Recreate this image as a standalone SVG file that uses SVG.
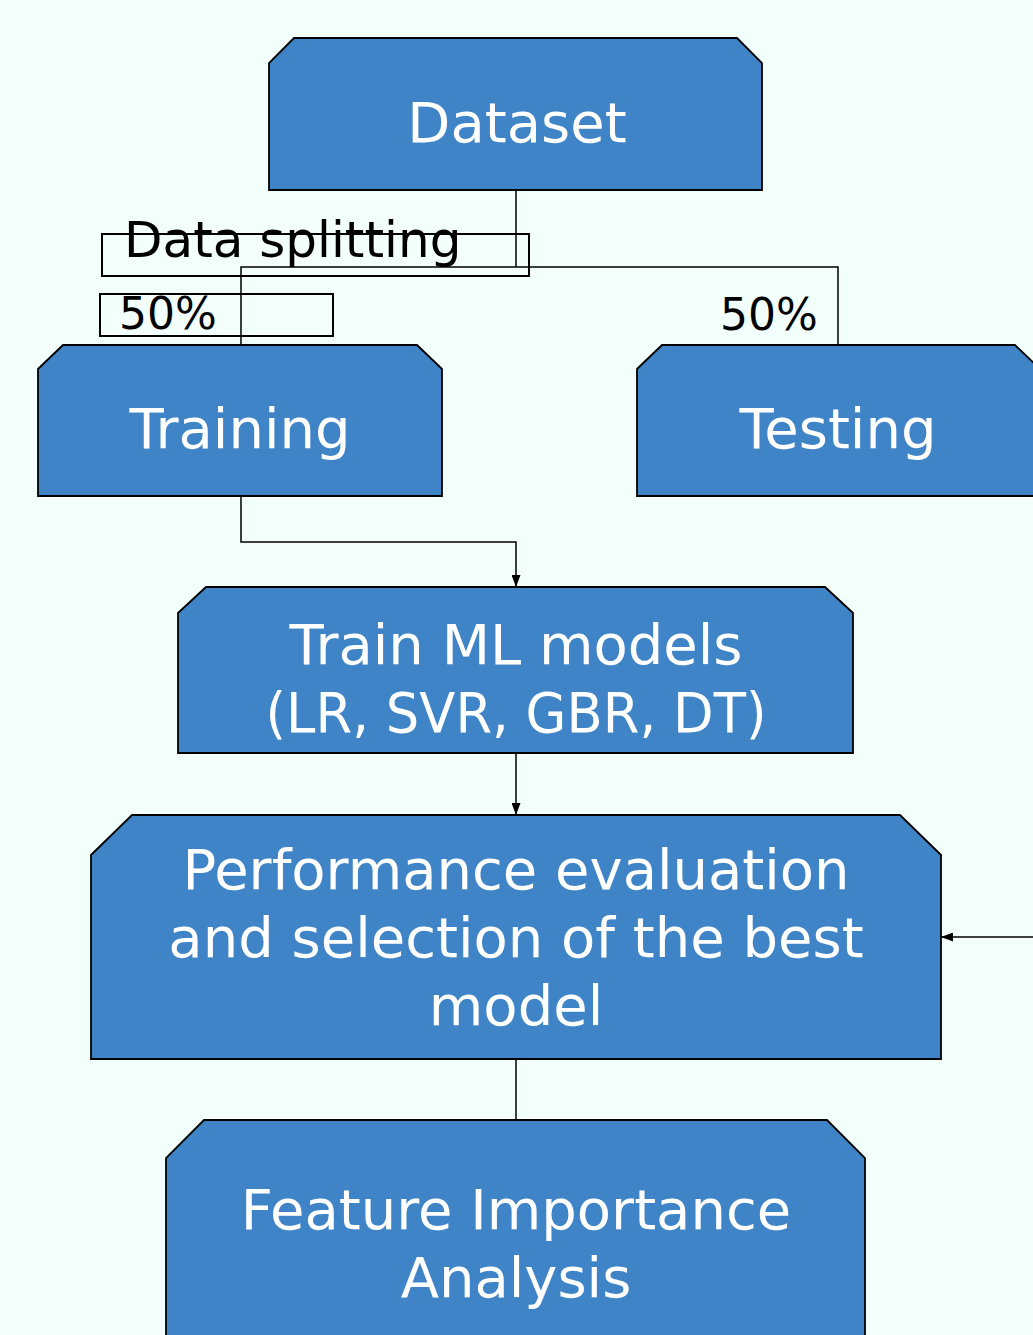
<svg xmlns="http://www.w3.org/2000/svg" width="1033" height="1335" viewBox="0 0 1033 1335">
<style>
.node{fill:#3f84c7;stroke:#000;stroke-width:1.8}
.nt{fill:#fff;font-family:"DejaVu Sans",sans-serif;font-size:56px;text-anchor:middle}
.lbl{fill:#000;font-family:"DejaVu Sans",sans-serif}
.lbox{fill:none;stroke:#000;stroke-width:2}
.edge{fill:none;stroke:#000;stroke-width:1.5}
</style>
<defs>
<marker id="ah" viewBox="0 0 10 10" refX="10" refY="5" markerWidth="12" markerHeight="9" markerUnits="userSpaceOnUse" orient="auto" preserveAspectRatio="none">
<path d="M0,0 L10,5 L0,10 Z" fill="#000"/>
</marker>
</defs>
<rect width="1033" height="1335" fill="#f3fffa"/>
<g id="connectors">
<polyline class="edge" points="516,190 516,267"/>
<polyline class="edge" points="241,345 241,267 838,267 838,345"/>
<polyline class="edge" points="241,496 241,542 516,542 516,587" marker-end="url(#ah)"/>
<line class="edge" x1="516" y1="753" x2="516" y2="815" marker-end="url(#ah)"/>
<line class="edge" x1="516" y1="1059" x2="516" y2="1120"/>
<line class="edge" x1="1035" y1="937" x2="941" y2="937" marker-end="url(#ah)"/>
<g id="label-split">
<rect class="lbox" x="102" y="234" width="427" height="42"/>
<text class="lbl" x="124" y="257" font-size="50">Data splitting</text>
</g>
<g id="label-train">
<rect class="lbox" x="100" y="294" width="233" height="42"/>
<text class="lbl" x="119" y="329" font-size="44">50%</text>
</g>
<g id="label-test">
<text class="lbl" x="720" y="330" font-size="44">50%</text>
</g>
</g>
<g id="dataset">
<path class="node" d="M294,38 H737 L762,63 V190 H269 V63 Z"/>
<text class="nt" x="517" y="142">Dataset</text>
</g>
<g id="training">
<path class="node" d="M63,345 H417 L442,369 V496 H38 V369 Z"/>
<text class="nt" x="240" y="448">Training</text>
</g>
<g id="testing">
<path class="node" d="M662,345 H1015 L1040,369 V496 H637 V369 Z"/>
<text class="nt" x="838" y="448">Testing</text>
</g>
<g id="train-ml">
<path class="node" d="M206,587 H825 L853,613 V753 H178 V613 Z"/>
<text class="nt" x="516" y="664">Train ML models</text>
<text class="nt" x="516" y="732" textLength="501" lengthAdjust="spacingAndGlyphs">(LR, SVR, GBR, DT)</text>
</g>
<g id="performance">
<path class="node" d="M132,815 H900 L941,855 V1059 H91 V855 Z"/>
<text class="nt" x="516" y="889">Performance evaluation</text>
<text class="nt" x="516" y="957">and selection of the best</text>
<text class="nt" x="516" y="1025">model</text>
</g>
<g id="feature">
<path class="node" d="M204,1120 H827 L865,1158 V1340 H166 V1158 Z"/>
<text class="nt" x="516" y="1229">Feature Importance</text>
<text class="nt" x="516" y="1297">Analysis</text>
</g>
</svg>
